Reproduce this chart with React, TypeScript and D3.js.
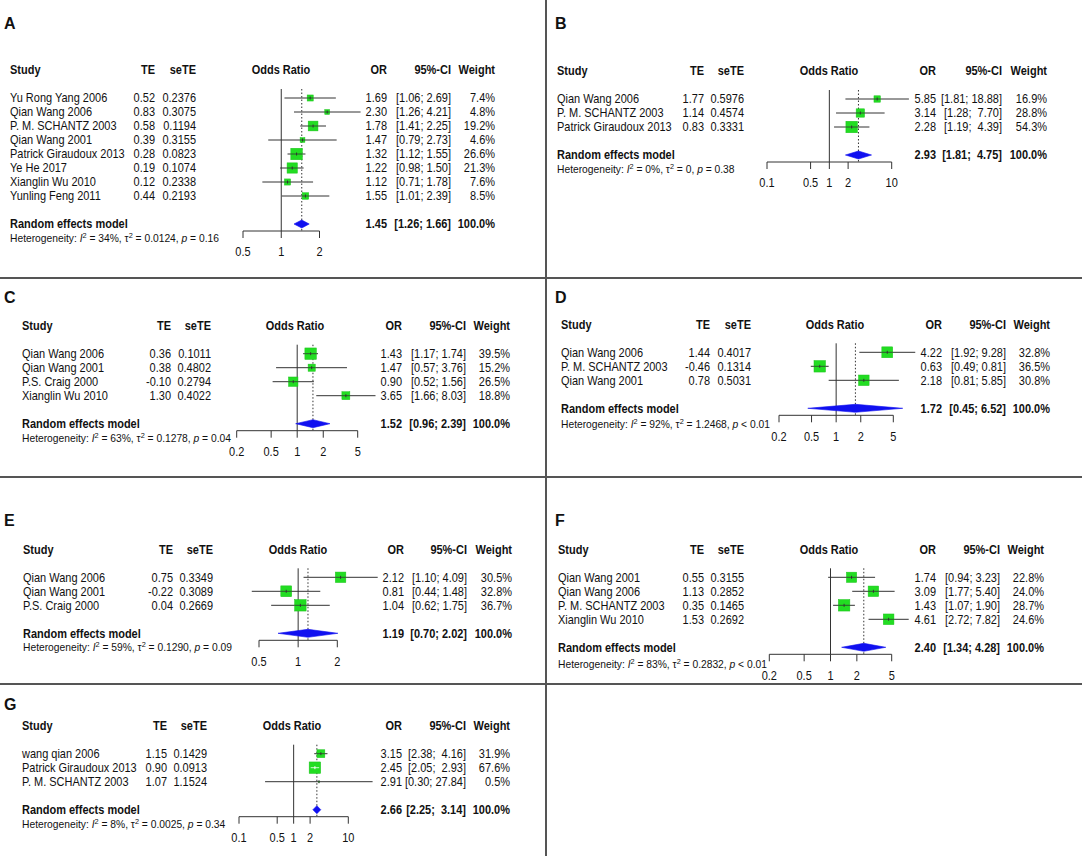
import * as d3 from "d3";
import React, { useEffect, useRef } from "react";

// study, TE, seTE, OR, lower, upper, weight (%)
type Study = [string, number, number, number, number, number, number];

const studiesA: Study[] = [
	["Yu Rong Yang 2006", 0.52, 0.2376, 1.69, 1.06, 2.69, 7.4],
	["Qian Wang 2006", 0.83, 0.3075, 2.3, 1.26, 4.21, 4.8],
	["P. M. SCHANTZ 2003", 0.58, 0.1194, 1.78, 1.41, 2.25, 19.2],
	["Qian Wang 2001", 0.39, 0.3155, 1.47, 0.79, 2.73, 4.6],
	["Patrick Giraudoux 2013", 0.28, 0.0823, 1.32, 1.12, 1.55, 26.6],
	["Ye He 2017", 0.19, 0.1074, 1.22, 0.98, 1.5, 21.3],
	["Xianglin Wu 2010", 0.12, 0.2338, 1.12, 0.71, 1.78, 7.6],
	["Yunling Feng 2011", 0.44, 0.2193, 1.55, 1.01, 2.39, 8.5],
];
const studiesB: Study[] = [
	["Qian Wang 2006", 1.77, 0.5976, 5.85, 1.81, 18.88, 16.9],
	["P. M. SCHANTZ 2003", 1.14, 0.4574, 3.14, 1.28, 7.7, 28.8],
	["Patrick Giraudoux 2013", 0.83, 0.3331, 2.28, 1.19, 4.39, 54.3],
];
const studiesC: Study[] = [
	["Qian Wang 2006", 0.36, 0.1011, 1.43, 1.17, 1.74, 39.5],
	["Qian Wang 2001", 0.38, 0.4802, 1.47, 0.57, 3.76, 15.2],
	["P.S. Craig 2000", -0.1, 0.2794, 0.9, 0.52, 1.56, 26.5],
	["Xianglin Wu 2010", 1.3, 0.4022, 3.65, 1.66, 8.03, 18.8],
];
const studiesD: Study[] = [
	["Qian Wang 2006", 1.44, 0.4017, 4.22, 1.92, 9.28, 32.8],
	["P. M. SCHANTZ 2003", -0.46, 0.1314, 0.63, 0.49, 0.81, 36.5],
	["Qian Wang 2001", 0.78, 0.5031, 2.18, 0.81, 5.85, 30.8],
];
const studiesE: Study[] = [
	["Qian Wang 2006", 0.75, 0.3349, 2.12, 1.1, 4.09, 30.5],
	["Qian Wang 2001", -0.22, 0.3089, 0.81, 0.44, 1.48, 32.8],
	["P.S. Craig 2000", 0.04, 0.2669, 1.04, 0.62, 1.75, 36.7],
];
const studiesF: Study[] = [
	["Qian Wang 2001", 0.55, 0.3155, 1.74, 0.94, 3.23, 22.8],
	["Qian Wang 2006", 1.13, 0.2852, 3.09, 1.77, 5.4, 24.0],
	["P. M. SCHANTZ 2003", 0.35, 0.1465, 1.43, 1.07, 1.9, 28.7],
	["Xianglin Wu 2010", 1.53, 0.2692, 4.61, 2.72, 7.82, 24.6],
];
const studiesG: Study[] = [
	["wang qian 2006", 1.15, 0.1429, 3.15, 2.38, 4.16, 31.9],
	["Patrick Giraudoux 2013", 0.9, 0.0913, 2.45, 2.05, 2.93, 67.6],
	["P. M. SCHANTZ 2003", 1.07, 1.1524, 2.91, 0.3, 27.84, 0.5],
];

// random effects model: OR, lower, upper
const summaryA = [1.45, 1.26, 1.66];
const summaryB = [2.93, 1.81, 4.75];
const summaryC = [1.52, 0.96, 2.39];
const summaryD = [1.72, 0.45, 6.52];
const summaryE = [1.19, 0.7, 2.02];
const summaryF = [2.4, 1.34, 4.28];
const summaryG = [2.66, 2.25, 3.14];

// heterogeneity: I2, tau2, p
const hetA = ["34%", "0.0124", "= 0.16"];
const hetB = ["0%", "0", "= 0.38"];
const hetC = ["63%", "0.1278", "= 0.04"];
const hetD = ["92%", "1.2468", "< 0.01"];
const hetE = ["59%", "0.1290", "= 0.09"];
const hetF = ["83%", "0.2832", "< 0.01"];
const hetG = ["8%", "0.0025", "= 0.34"];

const ticksA = [0.5, 1, 2];
const ticksB = [0.1, 0.5, 1, 2, 10];
const ticksC = [0.2, 0.5, 1, 2, 5];
const ticksD = [0.2, 0.5, 1, 2, 5];
const ticksE = [0.5, 1, 2];
const ticksF = [0.2, 0.5, 1, 2, 5];
const ticksG = [0.1, 0.5, 1, 2, 10];

// layout: label pos, header y, columns [study, TE, seTE, ORhead, OR, CI, W], axis range
const panels = [
	{ name: "A", studies: studiesA, sum: summaryA, het: hetA, ticks: ticksA, lab: [4, 29], headY: 70, cols: [10, 155, 196, 281, 387, 451, 495], axis: [243, 319.5], hetDy: 14 },
	{ name: "B", studies: studiesB, sum: summaryB, het: hetB, ticks: ticksB, lab: [555, 29], headY: 71, cols: [557, 704, 744, 829, 936, 1002, 1047], axis: [767, 891.7], hetDy: 14 },
	{ name: "C", studies: studiesC, sum: summaryC, het: hetC, ticks: ticksC, lab: [4, 303], headY: 325.7, cols: [22, 171, 211, 295, 402, 466, 510], axis: [236.7, 357.7], hetDy: 14 },
	{ name: "D", studies: studiesD, sum: summaryD, het: hetD, ticks: ticksD, lab: [555, 303], headY: 324.3, cols: [561, 710, 751, 835, 942, 1006, 1050], axis: [779, 893.3], hetDy: 16 },
	{ name: "E", studies: studiesE, sum: summaryE, het: hetE, ticks: ticksE, lab: [4, 526], headY: 549.3, cols: [23, 173, 213, 298, 404, 467, 512], axis: [259, 337.3], hetDy: 14 },
	{ name: "F", studies: studiesF, sum: summaryF, het: hetF, ticks: ticksF, lab: [555, 526], headY: 549.3, cols: [558, 704, 744, 829, 936, 1000, 1044], axis: [769.3, 891.7], hetDy: 17 },
	{ name: "G", studies: studiesG, sum: summaryG, het: hetG, ticks: ticksG, lab: [4, 710], headY: 725.7, cols: [22, 167, 207, 292, 402, 466, 510], axis: [239, 348.3], hetDy: 14 },
];

const FONT = "'Liberation Sans', Arial, sans-serif";
const ROW = 14;
const LINE = "#333";
const SQUARE = "#22dd22";
const DIAMOND = "#1010f0";

const App = () => {
	const ref = useRef<SVGSVGElement>(null);

	useEffect(() => {
		const svg = d3.select(ref.current);
		svg.selectAll("*").remove();

		svg.append("rect").attr("width", 1084).attr("height", 856).attr("fill", "#fff");

		// panel borders
		const grid = svg.append("g").attr("stroke", "#555").attr("stroke-width", 2);
		grid.append("line").attr("x1", 546).attr("x2", 546).attr("y1", 0).attr("y2", 856);
		[278, 477, 684].forEach((y) =>
			grid.append("line").attr("x1", 0).attr("x2", 1082).attr("y1", y).attr("y2", y)
		);

		panels.forEach((p) => {
			const g = svg.append("g").attr("font-family", FONT).attr("fill", "#111");
			const n = p.studies.length;
			const [cStudy, cTE, cSe, cHead, cOR, cCI, cW] = p.cols;
			const xScale = d3
				.scaleLog()
				.domain([p.ticks[0], p.ticks[p.ticks.length - 1]])
				.range(p.axis);
			const rowY = (i: number) => p.headY + ROW * (i + 2);
			const sumY = p.headY + ROW * (n + 3);
			const axisY = sumY + 7;
			const top = rowY(0) - 9;

			// text is a bit taller than wide in the source, so squeeze it horizontally
			const text = (x: number, y: number, s: string, anchor: string, bold = false, size = 12, sx = 0.915) =>
				g.append("text")
					.attr("transform", `translate(${x},${y + size * 0.36}) scale(${sx},1)`)
					.attr("text-anchor", anchor)
					.attr("font-size", size)
					.attr("font-weight", bold ? "bold" : "normal")
					.style("white-space", "pre")
					.text(s);

			text(p.lab[0], p.lab[1] - 6, p.name, "start", true, 16, 1);

			// header
			text(cStudy, p.headY, "Study", "start", true);
			text(cTE, p.headY, "TE", "end", true);
			text(cSe, p.headY, "seTE", "end", true);
			text(cHead, p.headY, "Odds Ratio", "middle", true);
			text(cOR, p.headY, "OR", "end", true);
			text(cCI, p.headY, "95%-CI", "end", true);
			text(cW, p.headY, "Weight", "end", true);

			// CI string padding like R
			const los = p.studies.map((s) => s[4].toFixed(2)).concat([p.sum[1].toFixed(2)]);
			const his = p.studies.map((s) => s[5].toFixed(2)).concat([p.sum[2].toFixed(2)]);
			const wl = d3.max(los, (s) => s.length) as number;
			const wh = d3.max(his, (s) => s.length) as number;
			const ci = (lo: number, hi: number) =>
				"[" + lo.toFixed(2).padStart(wl) + "; " + hi.toFixed(2).padStart(wh) + "]";

			// reference lines
			g.append("line")
				.attr("x1", xScale(1)).attr("x2", xScale(1))
				.attr("y1", top).attr("y2", axisY)
				.attr("stroke", LINE).attr("stroke-width", 1);
			g.append("line")
				.attr("x1", xScale(p.sum[0])).attr("x2", xScale(p.sum[0]))
				.attr("y1", top).attr("y2", axisY)
				.attr("stroke", LINE).attr("stroke-width", 1)
				.attr("stroke-dasharray", "1.5,2");

			const maxW = d3.max(p.studies, (s) => s[6]) as number;
			p.studies.forEach((s, i) => {
				const y = rowY(i);
				text(cStudy, y, s[0], "start");
				text(cTE, y, s[1].toFixed(2), "end");
				text(cSe, y, s[2].toFixed(4), "end");
				text(cOR, y, s[3].toFixed(2), "end");
				text(cCI, y, ci(s[4], s[5]), "end");
				text(cW, y, s[6].toFixed(1) + "%", "end");

				const xl = xScale(s[4]);
				const xh = xScale(s[5]);
				const xe = xScale(s[3]);
				const size = 11.5 * Math.sqrt(s[6] / maxW);
				g.append("line")
					.attr("x1", xl).attr("x2", xh)
					.attr("y1", y).attr("y2", y)
					.attr("stroke", LINE).attr("stroke-width", 1);
				g.append("rect")
					.attr("x", xe - size / 2).attr("y", y - size / 2)
					.attr("width", size).attr("height", size)
					.attr("fill", SQUARE).attr("stroke", "#1cc41c").attr("stroke-width", 0.5);
				const inside = xl >= xe - size / 2 && xh <= xe + size / 2;
				const col = inside ? "#fff" : LINE;
				g.append("line")
					.attr("x1", Math.max(xl, xe - size / 2)).attr("x2", Math.min(xh, xe + size / 2))
					.attr("y1", y).attr("y2", y)
					.attr("stroke", col).attr("stroke-width", 0.8);
				g.append("line")
					.attr("x1", xe).attr("x2", xe)
					.attr("y1", y - 1.5).attr("y2", y + 1.5)
					.attr("stroke", col).attr("stroke-width", 1);
			});

			// summary
			text(cStudy, sumY, "Random effects model", "start", true);
			text(cOR, sumY, p.sum[0].toFixed(2), "end", true);
			text(cCI, sumY, ci(p.sum[1], p.sum[2]), "end", true);
			text(cW, sumY, "100.0%", "end", true);
			const dl = xScale(p.sum[1]);
			const dh = xScale(p.sum[2]);
			const de = xScale(p.sum[0]);
			g.append("path")
				.attr("d", `M${dl},${sumY}L${de},${sumY - 4}L${dh},${sumY}L${de},${sumY + 4}Z`)
				.attr("fill", DIAMOND).attr("stroke", DIAMOND).attr("stroke-width", 0.6);

			// heterogeneity
			const hy = sumY + p.hetDy;
			const ht = g.append("text")
				.attr("transform", `translate(${cStudy},${hy + 3.8}) scale(0.98,1)`)
				.attr("font-size", 10.5)
				.style("white-space", "pre");
			ht.append("tspan").text("Heterogeneity: ");
			ht.append("tspan").attr("font-style", "italic").text("I");
			ht.append("tspan").attr("dy", -4).attr("font-size", 7.5).text("2");
			ht.append("tspan").attr("dy", 4).text(` = ${p.het[0]}, \u03c4`);
			ht.append("tspan").attr("dy", -4).attr("font-size", 7.5).text("2");
			ht.append("tspan").attr("dy", 4).text(` = ${p.het[1]}, `);
			ht.append("tspan").attr("font-style", "italic").text("p");
			ht.append("tspan").text(` ${p.het[2]}`);

			// x axis with ticks pointing down
			const ax = g.append("g").attr("stroke", LINE).attr("stroke-width", 1);
			ax.append("line")
				.attr("x1", p.axis[0]).attr("x2", p.axis[1])
				.attr("y1", axisY).attr("y2", axisY);
			p.ticks.forEach((t) => {
				ax.append("line")
					.attr("x1", xScale(t)).attr("x2", xScale(t))
					.attr("y1", axisY).attr("y2", axisY + 7);
				text(xScale(t), axisY + 21, String(t), "middle");
			});
		});
	});

	return (
		<svg
			ref={ref}
			width={1084}
			height={856}
			style={{ position: "absolute", left: 0, top: 0, display: "block" }}
		/>
	);
};

export default App;
